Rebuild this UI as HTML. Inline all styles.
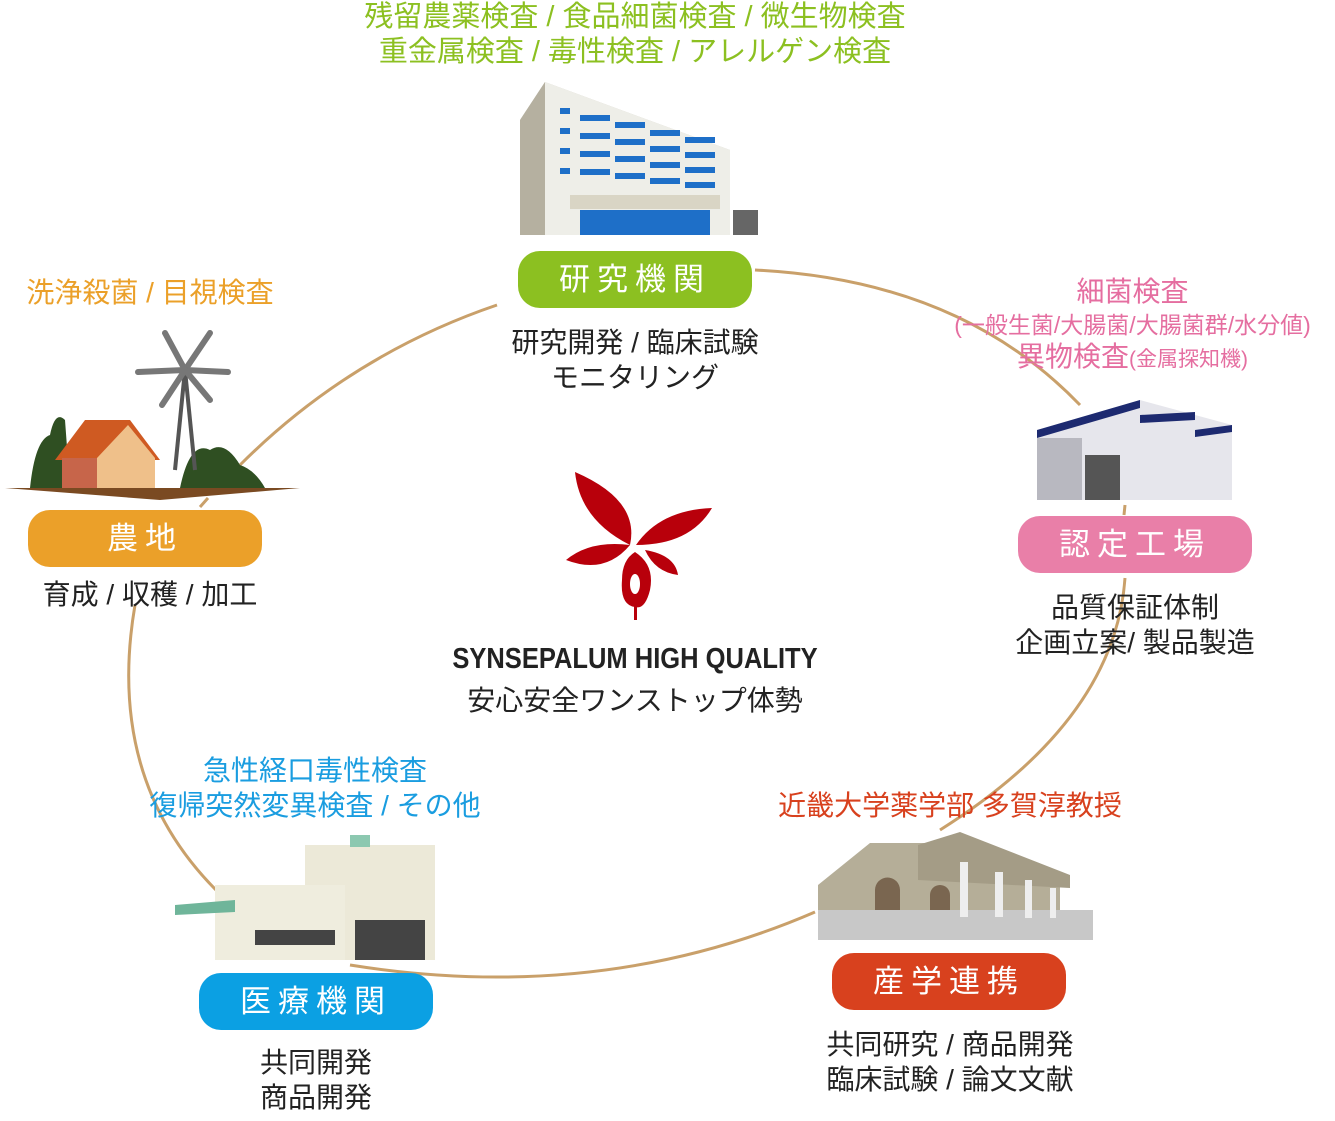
<!DOCTYPE html>
<html><head><meta charset="utf-8"><style>
html,body{margin:0;padding:0;background:#fff;}
body{width:1335px;height:1121px;position:relative;overflow:hidden;font-family:"Liberation Sans","Noto Sans CJK JP",sans-serif;}
.t{position:absolute;text-align:center;white-space:nowrap;line-height:35px;}
.btn{position:absolute;border-radius:22px;color:#fff;font-size:31px;text-align:center;letter-spacing:7px;line-height:57px;height:57px;width:234px;}
.k{color:#222;font-size:28px;}
</style></head><body>
<svg width="1335" height="1121" style="position:absolute;left:0;top:0">
<g fill="none" stroke="#c9a06a" stroke-width="3">
<path d="M497,305 Q350,355 240,465"/>
<path d="M208,498 L200,507"/>
<path d="M135,605 Q105,780 218,892"/>
<path d="M350,965 Q600,1005 815,912"/>
<path d="M1125,578 Q1115,720 940,830"/>
<path d="M1125,505 L1124,515"/>
<path d="M755,270 Q960,280 1080,405"/>
</g>
<!-- research building -->
<polygon points="520,120 545,82 730,150 730,235 520,235" fill="#cfcbbd"/>
<polygon points="520,120 545,82 545,235 520,235" fill="#b5b0a0"/>
<polygon points="545,82 730,150 730,235 545,235" fill="#eeeee8"/>
<g fill="#1e6fc8">
<rect x="560" y="108" width="10" height="6"/><rect x="580" y="115" width="30" height="6"/><rect x="615" y="122" width="30" height="6"/><rect x="650" y="130" width="30" height="6"/><rect x="685" y="137" width="30" height="6"/>
<rect x="560" y="128" width="10" height="6"/><rect x="580" y="133" width="30" height="6"/><rect x="615" y="139" width="30" height="6"/><rect x="650" y="146" width="30" height="6"/><rect x="685" y="152" width="30" height="6"/>
<rect x="560" y="148" width="10" height="6"/><rect x="580" y="151" width="30" height="6"/><rect x="615" y="156" width="30" height="6"/><rect x="650" y="162" width="30" height="6"/><rect x="685" y="167" width="30" height="6"/>
<rect x="560" y="168" width="10" height="6"/><rect x="580" y="169" width="30" height="6"/><rect x="615" y="173" width="30" height="6"/><rect x="650" y="178" width="30" height="6"/><rect x="685" y="182" width="30" height="6"/>
<rect x="580" y="210" width="130" height="25"/>
</g>
<rect x="570" y="195" width="150" height="14" fill="#d9d5c5"/>
<rect x="733" y="210" width="25" height="25" fill="#666"/>
<!-- farm -->
<polygon points="5,488 300,488 160,500" fill="#7a4a22"/>
<path d="M30,488 Q35,440 50,435 Q55,410 65,420 L70,488Z M180,488 Q190,440 210,450 Q225,440 240,465 Q255,470 265,488Z" fill="#2f4f22"/>
<line x1="185" y1="370" x2="175" y2="470" stroke="#555" stroke-width="4"/>
<line x1="185" y1="370" x2="195" y2="470" stroke="#555" stroke-width="4"/>
<g stroke="#777" stroke-width="6" stroke-linecap="round"><line x1="185" y1="370" x2="165" y2="333"/><line x1="185" y1="370" x2="210" y2="333"/><line x1="185" y1="370" x2="228" y2="372"/><line x1="185" y1="370" x2="138" y2="372"/><line x1="185" y1="370" x2="210" y2="400"/><line x1="185" y1="370" x2="162" y2="405"/></g>
<polygon points="55,460 85,420 130,420 160,460" fill="#cf5a22"/>
<rect x="62" y="458" width="35" height="30" fill="#c7654a"/>
<polygon points="97,458 128,425 155,458 155,488 97,488" fill="#efc08a"/>
<!-- factory -->
<polygon points="1037,430 1140,400 1232,425 1232,500 1037,500" fill="#e6e6ec"/>
<polygon points="1037,430 1140,400 1140,408 1037,438" fill="#1d2a70"/>
<polygon points="1140,415 1195,412 1195,420 1140,423" fill="#1d2a70"/>
<polygon points="1195,430 1232,425 1232,432 1195,437" fill="#1d2a70"/>
<rect x="1037" y="438" width="45" height="62" fill="#b8b8c0"/>
<rect x="1085" y="455" width="35" height="45" fill="#555"/>
<!-- medical -->
<rect x="305" y="845" width="130" height="115" fill="#ece9d8"/>
<rect x="215" y="885" width="130" height="75" fill="#efedde"/>
<polygon points="175,905 235,900 235,912 175,915" fill="#6fb59a"/>
<rect x="350" y="835" width="20" height="12" fill="#8cc8b0"/>
<g fill="#444"><rect x="255" y="930" width="80" height="15"/><rect x="355" y="920" width="70" height="40"/></g>
<!-- university -->
<polygon points="818,885 870,843 960,843 1060,875 1060,920 818,940" fill="#b5ae98"/>
<polygon points="918,845 960,832 1070,875 1070,888 918,880" fill="#a49c86"/>
<rect x="818" y="910" width="275" height="30" fill="#c8c8c8"/>
<path d="M875,910 v-20 a10,10 0 0 1 25,0 v20Z M930,910 v-15 a10,10 0 0 1 20,0 v15Z" fill="#7a6650"/>
<g fill="#eee"><rect x="960" y="862" width="8" height="55"/><rect x="995" y="872" width="8" height="45"/><rect x="1025" y="880" width="7" height="38"/><rect x="1050" y="888" width="6" height="30"/></g>
<!-- logo -->
<g fill="#b8000b">
<path d="M575,472 Q640,500 630,545 Q580,520 575,472Z"/>
<path d="M712,508 Q690,545 636,545 Q660,510 712,508Z"/>
<path d="M566,560 Q590,540 630,545 Q605,575 566,560Z"/>
<path d="M645,550 Q675,555 678,575 Q655,572 645,550Z"/>
<path d="M635,552 Q655,565 650,590 Q645,610 635,607 Q620,605 622,580 Q622,560 635,552Z"/>
<rect x="634" y="600" width="3" height="20"/>
</g>
<ellipse cx="635" cy="584" rx="5" ry="10" fill="#fff"/>
</svg>
<div class="t" style="left:300px;top:0;width:670px;font-size:29px;color:#8cc021;">残留農薬検査 / 食品細菌検査 / 微生物検査<br>重金属検査 / 毒性検査 / アレルゲン検査</div>
<div class="btn" style="left:518px;top:251px;background:#8cc021;">研究機関</div>
<div class="t k" style="left:470px;top:325px;width:330px;">研究開発 / 臨床試験<br>モニタリング</div>
<div class="t" style="left:0px;top:275px;width:300px;font-size:28px;color:#eba029;">洗浄殺菌 / 目視検査</div>
<div class="btn" style="left:28px;top:510px;background:#eba029;">農地</div>
<div class="t k" style="left:0;top:577px;width:300px;">育成 / 収穫 / 加工</div>
<div class="t" style="left:930px;top:276px;width:405px;font-size:28px;color:#e56ea0;line-height:32px;">細菌検査<br><span style="font-size:23px">(一般生菌/大腸菌/大腸菌群/水分値)</span><br>異物検査<span style="font-size:21px">(金属探知機)</span></div>
<div class="btn" style="left:1018px;top:516px;background:#e97fa8;">認定工場</div>
<div class="t k" style="left:985px;top:590px;width:300px;">品質保証体制<br>企画立案/ 製品製造</div>
<div class="t" style="left:380px;top:642px;width:510px;font-size:29px;font-weight:bold;color:#222;transform:scaleX(0.88);">SYNSEPALUM HIGH QUALITY</div>
<div class="t k" style="left:400px;top:683px;width:470px;">安心安全ワンストップ体勢</div>
<div class="t" style="left:120px;top:753px;width:390px;font-size:28px;color:#1a9de0;">急性経口毒性検査<br>復帰突然変異検査 / その他</div>
<div class="btn" style="left:199px;top:973px;background:#0ba0e3;">医療機関</div>
<div class="t k" style="left:166px;top:1045px;width:300px;">共同開発<br>商品開発</div>
<div class="t" style="left:740px;top:788px;width:420px;font-size:28px;color:#d8411e;">近畿大学薬学部 多賀淳教授</div>
<div class="btn" style="left:832px;top:953px;background:#d8411e;">産学連携</div>
<div class="t k" style="left:780px;top:1027px;width:340px;">共同研究 / 商品開発<br>臨床試験 / 論文文献</div>
</body></html>
